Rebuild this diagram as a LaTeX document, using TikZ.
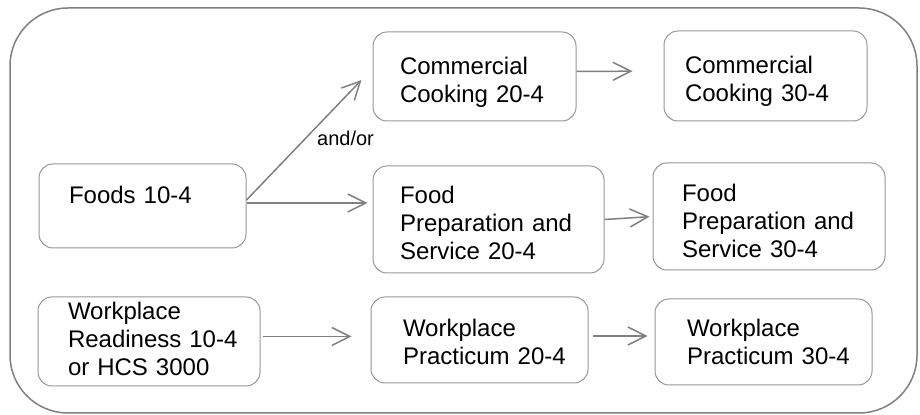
\documentclass[tikz,border=0pt]{standalone}
\usepackage{fontspec}
\setmainfont{Liberation Sans}
\definecolor{FrameGray}{RGB}{128,128,128}
\definecolor{BoxGray}{RGB}{150,150,150}
\definecolor{LinkGray}{RGB}{128,128,128}
\usetikzlibrary{arrows.meta, positioning}
\exhyphenpenalty=10000

\begin{document}
\begin{tikzpicture}[x=0.5pt, y=-0.5pt,
    course/.style={draw=BoxGray, line width=0.5pt, rounded corners=7pt, align=left,
        inner ysep=0pt, font=\fontsize{12}{14}\selectfont},
    link/.style={draw=LinkGray, line width=0.75pt, -{Straight Barb[length=9pt, width=9pt]}}]
    \useasboundingbox (0,0) rectangle (920,415);

    % outer frame
    \draw[FrameGray, line width=0.75pt, rounded corners=29pt] (10,8) rectangle (917,413);

    % first year
    \node[course, inner xsep=15pt, text width=73.5pt, text height=20pt, text depth=22pt] (foods) at (142.5,206) {Foods 10-4};
    \node[course, inner xsep=15pt, text width=81pt, text height=11.5pt, text depth=33pt] (readiness) at (149,341.5) {Workplace\\Readiness~10-4\\or HCS~3000};

    % second year
    \node[course, inner xsep=13.5pt, text width=74.5pt, text height=21.5pt, text depth=23pt] (cook20) at (474.5,76.5) {Commercial\\Cooking~20-4};
    \node[course, inner xsep=13.5pt, text width=88.5pt, text height=19pt, text depth=34.5pt] (prep20) at (488.5,219.5) {Food\\Preparation~and\\Service~20-4};
    \node[course, inner xsep=16pt, text width=76.5pt, text height=20pt, text depth=23pt] (practicum20) at (479.5,340) {Workplace\\Practicum~20-4};

    % third year
    \node[course, inner xsep=10.5pt, text width=80.5pt, text height=21.5pt, text depth=23.5pt] (cook30) at (765.5,76) {Commercial\\Cooking~30-4};
    \node[course, inner xsep=14.5pt, text width=87pt, text height=19.5pt, text depth=34pt] (prep30) at (769,216.5) {Food\\Preparation~and\\Service~30-4};
    \node[course, inner xsep=16pt, text width=76.5pt, text height=19pt, text depth=24pt] (practicum30) at (763.5,342) {Workplace\\Practicum~30-4};

    % links
    \draw[link, shorten >=8pt] ([yshift=3pt]foods.east) -- ([yshift=4pt]cook20.west)
        node[pos=0.47, right=2pt, font=\fontsize{10}{12}\selectfont] (andor) {and/or};
    \draw[link, shorten >=2.5pt] ([yshift=1.5pt]foods.east) -- ([yshift=1.5pt]foods.east -| prep20.west);
    \draw[link, shorten >=15.5pt] ([yshift=2.5pt]cook20.east) -- ([yshift=2.5pt]cook30.west);
    \draw[link, shorten >=1.5pt] (prep20.east) -- (prep30.west);
    \draw[link, shorten <=1pt, shorten >=9.5pt] ([yshift=2.5pt]readiness.east) -- ([yshift=2.5pt]readiness.east -| practicum20.west);
    \draw[link, shorten <=2pt, shorten >=3.5pt] ([yshift=2pt]practicum20.east) -- ([yshift=2pt]practicum20.east -| practicum30.west);
\end{tikzpicture}
\end{document}
